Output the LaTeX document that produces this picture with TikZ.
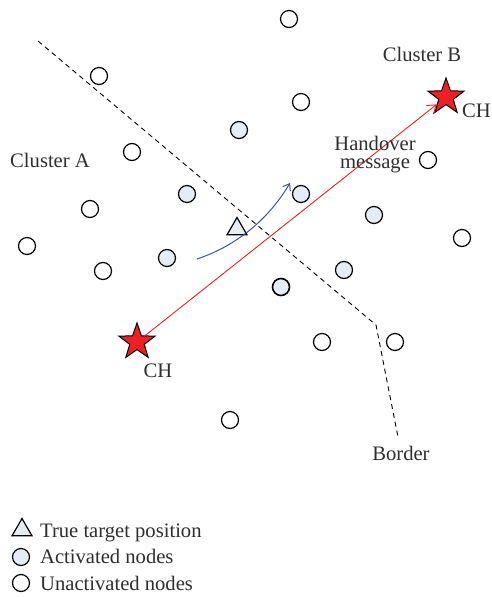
\documentclass[tikz,border=0pt]{standalone}
\usepackage{fontspec}
\setmainfont{Liberation Serif}
\usetikzlibrary{shapes.geometric,arrows.meta}
\definecolor{actfill}{HTML}{E4ECF5}
\definecolor{chred}{HTML}{EE2024}
\definecolor{arrblue}{HTML}{3A56A6}
\definecolor{txt}{HTML}{2E2E2E}
\begin{document}
\begin{tikzpicture}[x=1pt,y=-1pt,
 sensor/.style={circle,draw=black,line width=1.2pt,minimum size=17pt,inner sep=0pt,fill=white},
 active/.style={sensor,fill=actfill},
 chstar/.style={star,star points=5,star point ratio=2.5,minimum size=38pt,inner sep=0pt,fill=chred,draw=black,line width=1pt},
 lbl/.style={text=txt,font=\fontsize{20.6}{18}\selectfont,inner sep=0pt},
 target/.style={regular polygon,regular polygon sides=3,minimum size=23pt,inner sep=0pt,draw=black,line width=1.2pt,fill=actfill},
 borderline/.style={draw=black,line width=0.9pt,dash pattern=on 5pt off 4pt},
]
\useasboundingbox (0,0) rectangle (491,597);
\fill[white] (0,0) rectangle (491,597);

% border
\coordinate (b1) at (38,41);
\coordinate (b2) at (376,325);
\coordinate (b3) at (398,437);
\draw[borderline] (b1) -- (b2) -- (b3);

% unactivated nodes
\node[sensor] (u1) at (289,19) {};
\node[sensor] (u2) at (99,76) {};
\node[sensor] (u3) at (301,102) {};
\node[sensor] (u4) at (132,152) {};
\node[sensor] (u5) at (90,209) {};
\node[sensor] (u6) at (428,160) {};
\node[sensor] (u7) at (27,246) {};
\node[sensor] (u8) at (103,271) {};
\node[sensor] (u9) at (462,238) {};
\node[sensor] (u10) at (322,342) {};
\node[sensor] (u11) at (395,342) {};
\node[sensor] (u12) at (230,420) {};

% activated nodes
\node[active] (a1) at (239,130) {};
\node[active] (a2) at (187,194) {};
\node[active] (a3) at (301,194) {};
\node[active] (a4) at (374,215) {};
\node[active] (a5) at (167,258) {};
\node[active] (a6) at (344,270) {};
\node[active,line width=1.6pt] (a7) at (281,287) {};

% target
\node[target] (tg) at (237,229) {};

% blue movement arrow
\coordinate (m1) at (197,259);
\coordinate (m2) at (290,183);
\draw[arrblue,line width=1pt,-{Straight Barb[length=6pt,width=9pt]}] (m1) .. controls (230,248) and (265,225) .. (m2);

% cluster heads
\node[chstar] (cha) at (137,342) {};
\node[chstar] (chb) at (446,97) {};
\draw[chred,line width=0.9pt,-{Straight Barb[length=8pt,width=11pt]}] (cha) -- (chb);

% labels
\node[lbl,anchor=base] (lA) at (50,167) {Cluster A};
\node[lbl,anchor=base] (lB) at (422,61) {Cluster B};
\node[lbl,anchor=base west] (lchb) at (462,117) {CH};
\node[lbl,anchor=base] (lcha) at (158,377) {CH};
\node[lbl,align=center,anchor=center] (lh) at (375,155) {Handover\\message};
\node[lbl,anchor=base] (lbd) at (401,460) {Border};

% legend
\node[target] (legt) at (22,530) {};
\node[active] (lega) at (21,557) {};
\node[sensor] (legu) at (21,583) {};
\node[lbl,anchor=base west] (lt1) at (40,537) {True target position};
\node[lbl,anchor=base west] (lt2) at (40,563) {Activated nodes};
\node[lbl,anchor=base west] (lt3) at (40,590) {Unactivated nodes};
\end{tikzpicture}
\end{document}
